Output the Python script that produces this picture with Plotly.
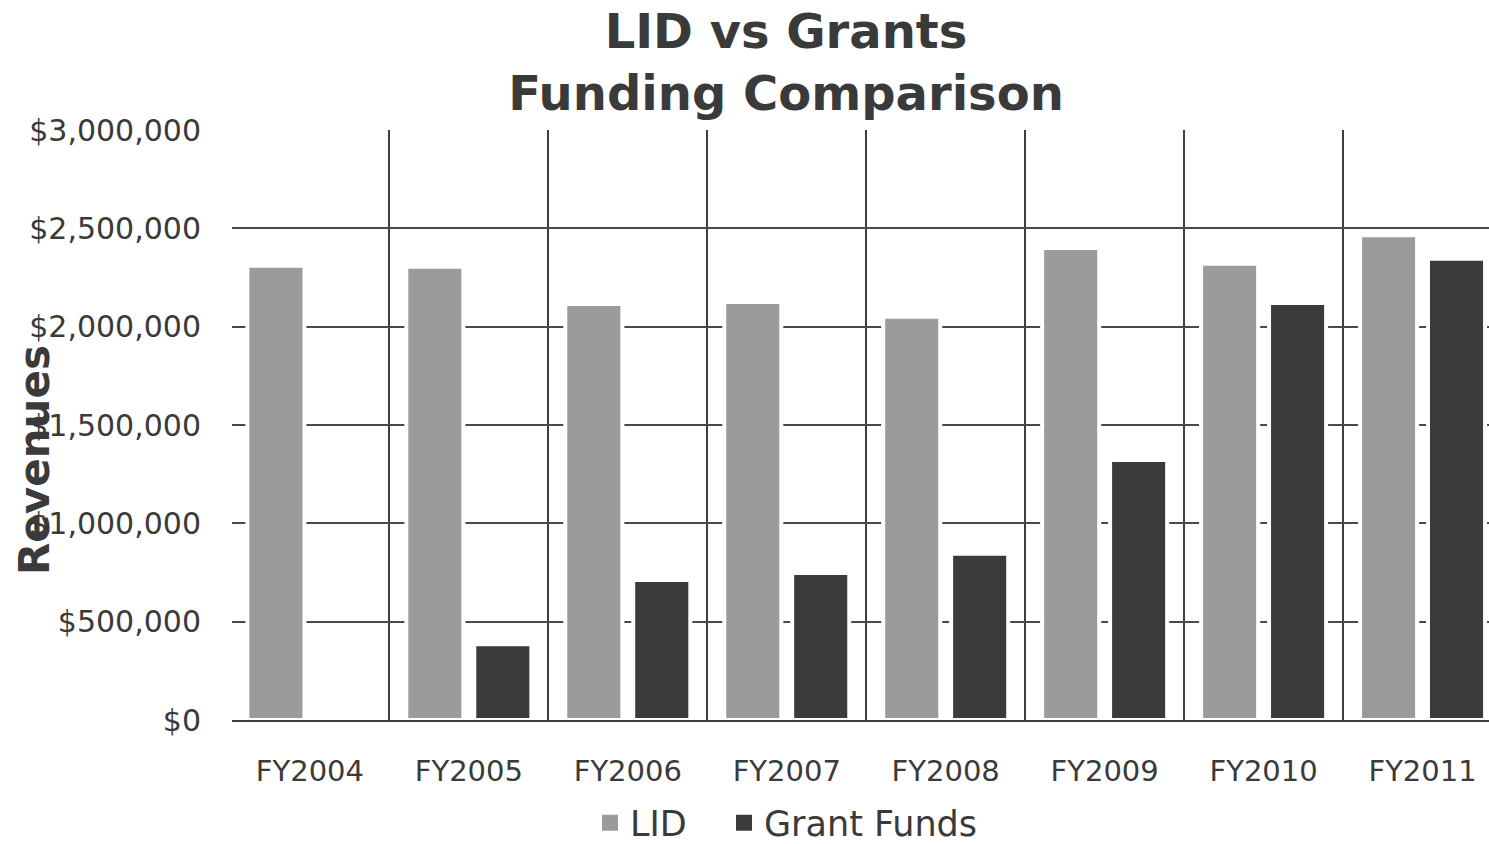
import plotly.graph_objects as go

# Fiscal years and revenue by funding source (USD)
years = ["FY2004", "FY2005", "FY2006", "FY2007", "FY2008", "FY2009", "FY2010", "FY2011"]
lid_revenue = [2310000, 2305000, 2115000, 2125000, 2050000, 2400000, 2320000, 2465000]
grant_revenue = [0, 385000, 712000, 748000, 845000, 1322000, 2120000, 2345000]

y_ticks = [0, 500000, 1000000, 1500000, 2000000, 2500000, 3000000]
y_tick_text = ["$0", "$500,000", "$1,000,000", "$1,500,000", "$2,000,000", "$2,500,000", "$3,000,000"]

FONT = "DejaVu Sans"
TEXT = "#3a3a3a"
LID_COLOR = "#9b9b9b"
GRANT_COLOR = "#3b3b3b"

fig = go.Figure()
fig.add_trace(go.Bar(
    name="LID", x=years, y=lid_revenue, showlegend=False,
    marker=dict(color=LID_COLOR, line=dict(color="white", width=4)),
))
fig.add_trace(go.Bar(
    name="Grant Funds", x=years, y=grant_revenue, showlegend=False,
    marker=dict(color=GRANT_COLOR, line=dict(color="white", width=4)),
))
# legend keys drawn as larger square swatches, one legend per key
for name, color, leg in [("LID", LID_COLOR, "legend"), ("Grant Funds", GRANT_COLOR, "legend2")]:
    fig.add_trace(go.Scatter(
        name=name, x=[None], y=[None], mode="markers", legend=leg,
        marker=dict(symbol="square", size=17, color=color),
    ))

legend_style = dict(
    orientation="h", xanchor="left", y=-0.1745, yanchor="middle",
    font=dict(family=FONT, size=35, color=TEXT),
    itemsizing="trace", bgcolor="rgba(0,0,0,0)",
)

fig.update_layout(
    width=1489, height=844,
    margin=dict(l=232, r=0, t=130, b=124, autoexpand=False),
    paper_bgcolor="white", plot_bgcolor="white",
    barmode="group", bargap=0.145, bargroupgap=0.16,
    font=dict(family=FONT, color=TEXT),
    title=dict(
        text="<b>LID vs Grants<br>Funding Comparison</b>",
        font=dict(family=FONT, size=48, color=TEXT),
        x=786 / 1489, xanchor="center", xref="container",
        y=1 - 48 / 844, yanchor="middle", yref="container",
    ),
    xaxis=dict(
        type="category", range=[-0.49, 7.418],
        tickson="boundaries", ticks="", showgrid=True,
        gridcolor="#3f3f3f", gridwidth=1.5,
        showline=True, linecolor="#3f3f3f", linewidth=2,
        tickfont=dict(family=FONT, size=29, color=TEXT),
        ticklabelstandoff=24,
    ),
    yaxis=dict(
        range=[0, 3000000], tickvals=y_ticks, ticktext=y_tick_text,
        showgrid=True, gridcolor="#4a4a4a", gridwidth=2,
        zeroline=False, ticks="",
        tickfont=dict(family=FONT, size=30, color=TEXT),
        ticklabelstandoff=30,
    ),
    legend=dict(x=(590 - 232) / 1257, **legend_style),
    legend2=dict(x=(724 - 232) / 1257, **legend_style),
    annotations=[dict(
        text="<b>Revenues</b>", textangle=-90,
        xref="paper", yref="paper", x=-0.157, y=0.44,
        xanchor="center", yanchor="middle", showarrow=False,
        font=dict(family=FONT, size=42, color=TEXT),
    )],
)

fig.write_html("out.html")
